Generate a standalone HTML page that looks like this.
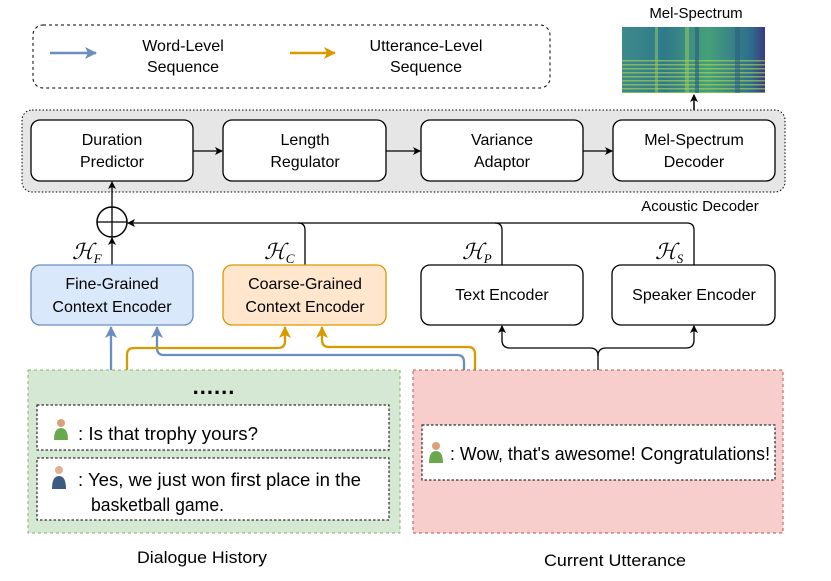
<!DOCTYPE html>
<html><head><meta charset="utf-8"><style>
html,body{margin:0;padding:0;background:#fff;}
svg{display:block;font-family:"Liberation Sans",sans-serif;}
.n{font-family:"Liberation Sans Narrow","Liberation Sans",sans-serif;}
.m{font-family:"Liberation Serif",serif;font-style:italic;}
</style></head><body>
<svg width="831" height="581" viewBox="0 0 831 581" xmlns="http://www.w3.org/2000/svg">
<defs>
<marker id="ak" markerWidth="8" markerHeight="8" refX="7" refY="4" orient="auto" markerUnits="userSpaceOnUse"><path d="M0,0 L8,4 L0,8 L2,4z" fill="#000"/></marker>
<marker id="ab" markerWidth="12" markerHeight="12" refX="11" refY="6" orient="auto" markerUnits="userSpaceOnUse"><path d="M0,0 L12,6 L0,12 L3,6z" fill="#6c8ebf"/></marker>
<marker id="ao" markerWidth="12" markerHeight="12" refX="11" refY="6" orient="auto" markerUnits="userSpaceOnUse"><path d="M0,0 L12,6 L0,12 L3,6z" fill="#d79b00"/></marker>
<linearGradient id="sp" x1="0" x2="1"><stop offset="0" stop-color="#3d8a8a"/><stop offset="0.3" stop-color="#2f7a8a"/><stop offset="0.6" stop-color="#45a07a"/><stop offset="0.9" stop-color="#2e6d8c"/><stop offset="1" stop-color="#3a3a80"/></linearGradient>
<pattern id="st" width="6" height="4" patternUnits="userSpaceOnUse"><rect width="6" height="1.5" fill="#b5d84a" opacity="0.6"/></pattern>
</defs>
<rect x="33" y="25" width="517" height="63" rx="10" fill="#fff" stroke="#000" stroke-dasharray="3,3"/>
<line x1="50" y1="53" x2="96" y2="53" stroke="#6c8ebf" stroke-width="2.5" marker-end="url(#ab)"/>
<text x="183" y="51" font-size="16" text-anchor="middle">Word-Level</text>
<text x="183" y="72" font-size="16" text-anchor="middle">Sequence</text>
<line x1="290" y1="53" x2="335" y2="53" stroke="#d79b00" stroke-width="2.5" marker-end="url(#ao)"/>
<text x="426" y="51" font-size="16" text-anchor="middle">Utterance-Level</text>
<text x="426" y="72" font-size="16" text-anchor="middle">Sequence</text>
<text x="696" y="18" font-size="15" text-anchor="middle">Mel-Spectrum</text>
<rect x="622" y="27" width="143" height="66" fill="url(#sp)"/>
<rect x="622" y="60" width="143" height="33" fill="url(#st)"/>
<rect x="655" y="27" width="3" height="66" fill="#9fd05a" opacity="0.5"/>
<rect x="685" y="27" width="4" height="66" fill="#9fd05a" opacity="0.5"/>
<rect x="695" y="27" width="4" height="66" fill="#2a5a80" opacity="0.6"/>
<rect x="735" y="27" width="5" height="66" fill="#2a5a80" opacity="0.5"/>
<line x1="694" y1="120" x2="694" y2="95" stroke="#000" stroke-width="1.5" marker-end="url(#ak)"/>
<rect x="22" y="110" width="763" height="82" rx="10" fill="#e6e6e6" stroke="#000" stroke-dasharray="1.5,2"/>
<g fill="#fff" stroke="#000" stroke-width="1.3">
<rect x="31" y="120" width="162" height="61" rx="9"/>
<rect x="223" y="120" width="163" height="61" rx="9"/>
<rect x="421" y="120" width="162" height="61" rx="9"/>
<rect x="613" y="120" width="162" height="61" rx="9"/>
</g>
<g font-size="16" text-anchor="middle">
<text x="112" y="145">Duration</text><text x="112" y="167">Predictor</text>
<text x="305" y="145">Length</text><text x="305" y="167">Regulator</text>
<text x="502" y="145">Variance</text><text x="502" y="167">Adaptor</text>
<text x="694" y="145">Mel-Spectrum</text><text x="694" y="167">Decoder</text>
</g>
<g stroke="#000" stroke-width="1.3" fill="none">
<line x1="193" y1="151" x2="222" y2="151" marker-end="url(#ak)"/>
<line x1="386" y1="151" x2="420" y2="151" marker-end="url(#ak)"/>
<line x1="583" y1="151" x2="612" y2="151" marker-end="url(#ak)"/>
</g>
<text x="700" y="211" font-size="15" text-anchor="middle">Acoustic Decoder</text>
<circle cx="112" cy="222" r="15" fill="#fff" stroke="#000" stroke-width="1.5"/>
<line x1="97" y1="222" x2="127" y2="222" stroke="#000" stroke-width="1.3"/>
<line x1="112" y1="207" x2="112" y2="237" stroke="#000" stroke-width="1.3"/>
<line x1="112" y1="207" x2="112" y2="182" stroke="#000" stroke-width="1.3" marker-end="url(#ak)"/>
<line x1="112" y1="265" x2="112" y2="238" stroke="#000" stroke-width="1.3" marker-end="url(#ak)"/>
<g stroke="#000" stroke-width="1.3" fill="none">
<path d="M694,265 V230 Q694,223 687,223 H128" marker-end="url(#ak)"/>
<path d="M502,265 V230 Q502,223 495,223"/>
<path d="M305,265 V230 Q305,223 298,223"/>
<path d="M598,370 V356 Q598,348 590,348 H510 Q502,348 502,340 V326" marker-end="url(#ak)"/>
<path d="M598,356 Q598,348 606,348 H686 Q694,348 694,340 V326" marker-end="url(#ak)"/>
</g>
<g class="m" font-size="22">
<text x="72" y="259">ℋ<tspan font-size="13" dy="4">F</tspan></text>
<text x="264" y="259">ℋ<tspan font-size="13" dy="4">C</tspan></text>
<text x="462" y="259">ℋ<tspan font-size="13" dy="4">P</tspan></text>
<text x="655" y="259">ℋ<tspan font-size="13" dy="4">S</tspan></text>
</g>
<rect x="31" y="265" width="162" height="60" rx="9" fill="#dae8fc" stroke="#6c8ebf" stroke-width="1.3"/>
<rect x="223" y="265" width="163" height="60" rx="9" fill="#ffe6cc" stroke="#d79b00" stroke-width="1.3"/>
<rect x="421" y="265" width="162" height="60" rx="9" fill="#fff" stroke="#000" stroke-width="1.3"/>
<rect x="612" y="265" width="163" height="60" rx="9" fill="#fff" stroke="#000" stroke-width="1.3"/>
<g font-size="16" text-anchor="middle">
<text x="112" y="289">Fine-Grained</text><text x="112" y="312">Context Encoder</text>
<text x="305" y="289">Coarse-Grained</text><text x="305" y="312">Context Encoder</text>
<text x="502" y="300">Text Encoder</text>
<text x="694" y="300">Speaker Encoder</text>
</g>
<g fill="none" stroke-width="2.3">
<path d="M111,370 V327" stroke="#6c8ebf" marker-end="url(#ab)"/>
<path d="M464,370 V362 Q464,355 457,355 H164 Q157,355 157,348 V327" stroke="#6c8ebf" marker-end="url(#ab)"/>
<path d="M127,370 V355 Q127,348 134,348 H278 Q285,348 285,341 V327" stroke="#d79b00" marker-end="url(#ao)"/>
<path d="M475,370 V354 Q475,347 468,347 H329 Q322,347 322,340 V327" stroke="#d79b00" marker-end="url(#ao)"/>
</g>
<rect x="28" y="370" width="372" height="163" fill="#d5e8d4" stroke="#82b366" stroke-dasharray="3,3"/>
<rect x="413" y="370" width="370" height="163" fill="#f8cecc" stroke="#b85450" stroke-dasharray="3,3"/>
<text x="214" y="394" font-size="22" font-weight="bold" text-anchor="middle" letter-spacing="1">......</text>
<g fill="#fff" stroke="#000" stroke-dasharray="2.5,2">
<rect x="37" y="405" width="352" height="45"/>
<rect x="37" y="458" width="352" height="62"/>
<rect x="422" y="425" width="353" height="55"/>
</g>
<g>
<circle cx="61" cy="423" r="4" fill="#d9a07a"/><path d="M54,440 Q54,428 61,428 Q68,428 68,440z" fill="#6aa84f"/>
<circle cx="59" cy="470" r="4" fill="#e0b090"/><path d="M52,489 Q52,476 59,476 Q66,476 66,489z" fill="#3d5a80"/>
<circle cx="436" cy="446" r="4" fill="#d9a07a"/><path d="M429,463 Q429,451 436,451 Q443,451 443,463z" fill="#6aa84f"/>
</g>
<g class="n" font-size="18">
<text x="78" y="440" textLength="180" lengthAdjust="spacingAndGlyphs">: Is that trophy yours?</text>
<text x="78" y="486" textLength="283" lengthAdjust="spacingAndGlyphs">: Yes, we just won first place in the</text>
<text x="91" y="511" textLength="133" lengthAdjust="spacingAndGlyphs">basketball game.</text>
<text x="450" y="460" textLength="320" lengthAdjust="spacingAndGlyphs">: Wow, that's awesome! Congratulations!</text>
<text x="137" y="563" font-size="17" textLength="130" lengthAdjust="spacingAndGlyphs">Dialogue History</text>
<text x="544" y="566" font-size="17" textLength="142" lengthAdjust="spacingAndGlyphs">Current Utterance</text>
</g>
</svg>
</body></html>
